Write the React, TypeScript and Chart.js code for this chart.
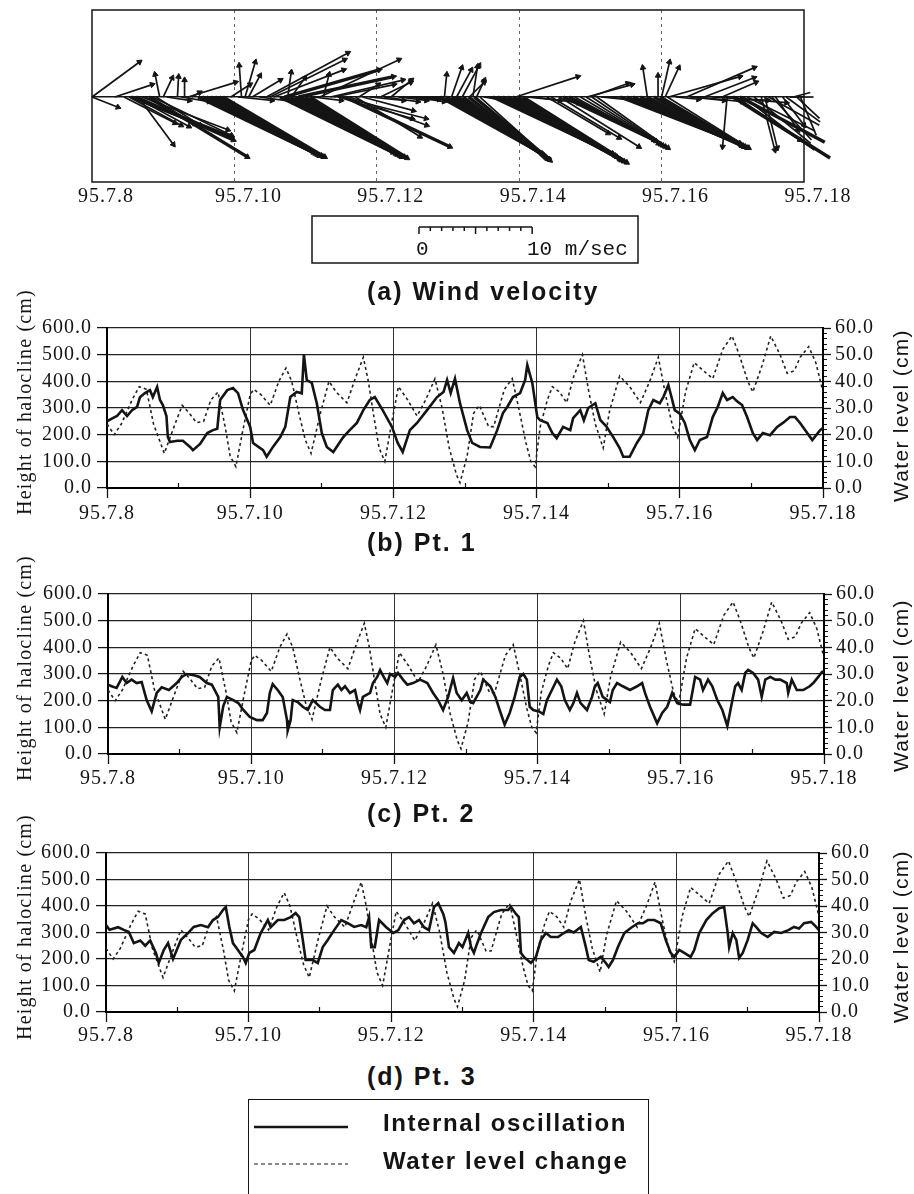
import React, { useEffect, useRef } from 'react';
import { Chart, registerables } from 'chart.js';

Chart.register(...registerables);

// ---------------- data ----------------
const dateLabels = ['95.7.8', '95.7.10', '95.7.12', '95.7.14', '95.7.16', '95.7.18'];
const panelTitles = ['(a) Wind velocity', '(b) Pt. 1', '(c) Pt. 2', '(d) Pt. 3'];
const legendLabels = ['Internal oscillation', 'Water level change'];
const leftAxisTitle = 'Height of halocline (cm)';
const rightAxisTitle = 'Water level (cm)';

// wind sticks: [day of July 1995, u east (m/s), v north (m/s)]
const windVectors: [number, number, number][] = [
  [8.00, 4.2, 3.1], [8.00, 2.3, -0.9], [8.32, 3.3, 1.1], [8.45, 4.5, -2.3], [8.52, 4.6, -2.5],
  [8.55, 8.8, -3.5], [8.60, 4.8, -2.6], [8.62, 8.6, -3.8], [8.65, 3.1, -4.2], [8.70, 7.6, -2.9],
  [8.75, 4.4, -2.4], [8.80, 8.7, -5.3], [8.85, 7.0, -3.4], [8.90, 3.9, -2.5], [8.95, -0.4, 2.0],
  [9.00, 0.8, 1.7], [9.05, 2.0, -0.3], [9.20, 0.1, 1.8], [9.25, 2.5, -0.4], [9.30, 0.0, 1.5],
  [9.35, 4.2, 1.3], [9.40, 0.7, 0.4],
  [9.49, 10.2, -4.9], [9.55, 10.0, -5.0], [9.61, 9.8, -5.1], [9.67, 9.6, -5.2], [9.73, 9.4, -5.2],
  [9.79, 9.2, -5.3], [9.84, 9.0, -5.3],
  [9.95, 1.7, 1.1], [10.05, 3.0, -0.3], [10.10, -0.2, 2.8], [10.15, 0.9, 3.1], [10.20, 1.0, 1.9],
  [10.25, 2.5, 1.5], [10.35, 3.0, -0.4], [10.45, 7.2, 3.9], [10.50, 6.6, 3.3], [10.55, 6.2, 2.4],
  [10.64, 10.0, -4.9], [10.71, 9.8, -5.0], [10.78, 9.5, -5.1], [10.85, 9.3, -5.2], [10.92, 9.0, -5.3],
  [10.99, 8.8, -5.3], [11.06, 8.6, -5.4],
  [10.70, 8.4, 2.4], [10.75, 0.3, 2.2], [10.80, 1.2, 1.7], [10.90, 8.4, 1.8], [11.10, 2.5, -0.3],
  [11.20, 7.0, 3.3], [11.25, 0.5, 2.0], [11.35, 6.4, 1.5], [11.40, 5.3, 1.1],
  [11.45, 6.6, -1.9], [11.50, 7.5, -1.9], [11.55, 9.3, -4.4], [11.62, 6.8, -2.5], [11.70, 5.7, -3.5],
  [11.75, 1.7, 1.1], [11.80, 4.5, -1.2], [11.90, 3.0, -0.3], [12.05, 2.7, 1.3], [12.10, 3.0, -0.4],
  [12.20, 1.8, 1.5], [12.30, 2.5, -0.3], [12.40, 3.0, -0.2], [12.50, 2.8, -0.4], [12.60, 3.2, -0.3],
  [12.70, 2.0, -0.2], [12.80, 2.5, -0.3],
  [12.89, 9.0, -5.0], [12.97, 8.6, -5.1], [13.05, 8.2, -5.2], [13.13, 7.8, -5.3], [13.21, 7.4, -5.4],
  [13.29, 7.0, -5.5], [13.37, 6.6, -5.5], [13.45, 6.2, -5.6],
  [12.95, 0.2, 2.0], [13.05, 0.9, 2.6], [13.10, 1.3, -0.7], [13.12, 1.3, 2.4], [13.20, 1.5, 2.8],
  [13.30, 1.3, 1.3], [13.35, 0.4, 2.7], [13.40, 0.7, 1.5], [13.50, 3.0, -0.5], [13.58, 2.0, -0.3],
  [13.63, 10.6, -5.0], [13.70, 10.4, -5.2], [13.77, 10.1, -5.3], [13.84, 9.9, -5.5], [13.91, 9.6, -5.6],
  [13.98, 9.4, -5.7], [14.05, 9.2, -5.8],
  [13.95, 5.5, 1.8], [14.10, 3.0, -0.3], [14.20, 4.0, -0.5], [14.39, 5.4, -3.2], [14.45, 6.0, -3.6],
  [14.57, 7.0, -4.4],
  [14.62, 8.0, -3.8], [14.70, 7.7, -3.9], [14.78, 7.4, -4.1], [14.86, 7.1, -4.2], [14.94, 6.8, -4.3],
  [15.02, 6.5, -4.4], [15.09, 6.3, -4.5],
  [14.95, 4.0, 1.1], [15.00, 3.3, 1.2], [15.15, 3.0, -0.3], [15.25, 4.0, -0.4],
  [15.42, 10.6, -4.1], [15.51, 10.1, -4.2], [15.60, 9.6, -4.3], [15.70, 9.1, -4.3], [15.79, 8.6, -4.4],
  [15.89, 8.1, -4.4], [15.98, 7.7, -4.5], [16.08, 7.2, -4.5],
  [15.80, -0.4, 2.6], [15.95, 0.0, 1.9], [16.00, 0.7, 3.1], [16.05, 1.2, 2.6], [16.10, 6.3, 1.8],
  [16.20, 2.0, -0.2], [16.35, 6.0, 2.6], [16.40, 3.0, -0.3], [16.50, 4.0, -0.4], [16.60, 4.4, 1.7],
  [16.70, 5.0, -0.3], [16.80, 6.0, -0.5], [16.85, 3.0, 1.3],
  [16.92, -0.4, -4.4], [17.00, 8.6, -5.4], [17.05, 6.9, -4.7], [17.10, 7.5, -4.0], [17.15, 5.0, -3.8],
  [17.20, 6.0, -3.0], [17.30, 5.0, -4.1], [17.40, 1.2, -4.7], [17.45, 1.1, -4.5], [17.50, 4.5, -2.5],
  [17.55, 3.5, -3.8], [17.60, 2.0, -2.9], [17.70, 1.9, -2.5], [17.75, 3.0, -2.2], [17.80, 2.1, 0.0],
  [17.85, 1.5, 0.4], [17.90, 2.0, -1.9], [17.95, 1.4, -3.4],
];

// water level (cm), right axis, same tide record in every panel: [day, value]
const waterLevel: [number, number][] = [
  [8.00, 24], [8.10, 20], [8.20, 24], [8.35, 33], [8.45, 38], [8.55, 37], [8.65, 24], [8.80, 13],
  [8.95, 24], [9.05, 31], [9.15, 28], [9.25, 24.5], [9.35, 25], [9.45, 33], [9.55, 36], [9.65, 23],
  [9.72, 12], [9.80, 8], [9.90, 22], [10.00, 35], [10.05, 37], [10.15, 35], [10.28, 31], [10.40, 40],
  [10.50, 45], [10.58, 40], [10.68, 28], [10.77, 18], [10.85, 13], [10.98, 28], [11.10, 40], [11.20, 36],
  [11.35, 32], [11.48, 42], [11.58, 49], [11.65, 40], [11.72, 28], [11.80, 15], [11.88, 10], [11.98, 25],
  [12.07, 38], [12.20, 33], [12.33, 27], [12.45, 33], [12.58, 41], [12.68, 30], [12.78, 15], [12.88, 5],
  [12.93, 2], [13.03, 12], [13.12, 28], [13.20, 31], [13.33, 23], [13.40, 23], [13.55, 37], [13.66, 41],
  [13.75, 30], [13.85, 17], [13.92, 10], [13.98, 8], [14.05, 23], [14.15, 33], [14.22, 38], [14.32, 36],
  [14.42, 32], [14.52, 42], [14.64, 50], [14.73, 36], [14.82, 24], [14.93, 15], [15.02, 29], [15.16, 42],
  [15.30, 38], [15.45, 32], [15.58, 40], [15.70, 49], [15.80, 35], [15.90, 23], [15.97, 19], [16.08, 36],
  [16.20, 47], [16.33, 44], [16.46, 41], [16.60, 52], [16.73, 57], [16.83, 50], [16.95, 40], [17.02, 36],
  [17.15, 46], [17.27, 57], [17.40, 50], [17.50, 43], [17.60, 44], [17.68, 49], [17.80, 53], [17.90, 47],
  [18.00, 36],
];

// height of halocline (cm), left axis: [day, value]
const pt1Halocline: [number, number][] = [
  [8.00, 250], [8.08, 262], [8.14, 270], [8.21, 292], [8.28, 270], [8.35, 292], [8.42, 304], [8.46, 340],
  [8.53, 356], [8.60, 367], [8.64, 341], [8.70, 379], [8.74, 330], [8.78, 311], [8.83, 270], [8.85, 191],
  [8.88, 172], [8.98, 177], [9.06, 177], [9.16, 154], [9.20, 142], [9.30, 165], [9.40, 206], [9.48, 217],
  [9.54, 222], [9.58, 330], [9.68, 367], [9.76, 375], [9.83, 356], [9.90, 292], [10.00, 229], [10.04, 169],
  [10.18, 142], [10.23, 117], [10.32, 155], [10.42, 191], [10.49, 229], [10.56, 341], [10.65, 360], [10.72, 355],
  [10.75, 500], [10.79, 405], [10.86, 394], [10.93, 318], [11.00, 206], [11.07, 154], [11.16, 135], [11.30, 191],
  [11.39, 217], [11.49, 244], [11.58, 292], [11.67, 330], [11.74, 341], [11.85, 292], [11.98, 229], [12.06, 169],
  [12.13, 135], [12.23, 217], [12.33, 244], [12.47, 292], [12.61, 341], [12.70, 360], [12.75, 405], [12.80, 356],
  [12.86, 410], [12.93, 318], [13.03, 217], [13.10, 169], [13.21, 154], [13.35, 152], [13.45, 217], [13.53, 281],
  [13.59, 304], [13.67, 341], [13.77, 356], [13.84, 405], [13.87, 461], [13.94, 394], [14.01, 266], [14.05, 254],
  [14.15, 244], [14.22, 206], [14.28, 187], [14.37, 229], [14.47, 217], [14.51, 262], [14.61, 292], [14.66, 254],
  [14.72, 300], [14.82, 318], [14.89, 255], [14.98, 229], [15.07, 191], [15.16, 150], [15.21, 117], [15.30, 117],
  [15.40, 169], [15.49, 206], [15.56, 292], [15.63, 330], [15.72, 318], [15.77, 341], [15.84, 386], [15.88, 345],
  [15.93, 292], [16.00, 279], [16.07, 244], [16.14, 180], [16.21, 142], [16.28, 180], [16.38, 191], [16.46, 266],
  [16.53, 304], [16.60, 356], [16.66, 330], [16.74, 341], [16.80, 325], [16.87, 311], [16.94, 266], [17.02, 206],
  [17.08, 180], [17.16, 206], [17.26, 198], [17.36, 229], [17.44, 244], [17.54, 266], [17.61, 266], [17.68, 244],
  [17.78, 206], [17.85, 180], [17.96, 217], [18.00, 225],
];

const pt2Halocline: [number, number][] = [
  [8.00, 260], [8.05, 254], [8.12, 248], [8.20, 289], [8.26, 266], [8.33, 279], [8.40, 266], [8.47, 270],
  [8.54, 202], [8.61, 160], [8.68, 229], [8.75, 250], [8.85, 240], [8.96, 266], [9.03, 289], [9.10, 300],
  [9.20, 295], [9.28, 289], [9.38, 266], [9.45, 260], [9.54, 214], [9.56, 100], [9.61, 180], [9.66, 214],
  [9.75, 202], [9.82, 191], [9.89, 165], [9.98, 139], [10.08, 127], [10.16, 127], [10.22, 154], [10.26, 229],
  [10.30, 262], [10.37, 240], [10.44, 214], [10.50, 127], [10.51, 89], [10.55, 127], [10.58, 202], [10.65, 195],
  [10.72, 177], [10.79, 165], [10.86, 202], [10.96, 177], [11.03, 165], [11.10, 165], [11.14, 240], [11.21, 260],
  [11.26, 240], [11.31, 254], [11.38, 229], [11.45, 240], [11.49, 191], [11.52, 165], [11.56, 214], [11.66, 229],
  [11.70, 266], [11.76, 289], [11.80, 315], [11.85, 289], [11.90, 266], [11.94, 300], [12.01, 289], [12.05, 304],
  [12.12, 279], [12.18, 260], [12.26, 266], [12.36, 279], [12.46, 266], [12.54, 229], [12.61, 202], [12.68, 165],
  [12.75, 214], [12.82, 285], [12.87, 229], [12.94, 202], [13.01, 229], [13.06, 195], [13.10, 191], [13.20, 240],
  [13.24, 279], [13.34, 254], [13.41, 214], [13.47, 165], [13.54, 110], [13.61, 154], [13.68, 214], [13.75, 289],
  [13.80, 300], [13.85, 279], [13.89, 177], [13.94, 165], [14.03, 158], [14.08, 150], [14.13, 202], [14.20, 240],
  [14.27, 279], [14.33, 254], [14.38, 202], [14.45, 165], [14.50, 191], [14.55, 229], [14.60, 191], [14.69, 165],
  [14.76, 214], [14.80, 254], [14.84, 266], [14.91, 214], [15.01, 195], [15.05, 240], [15.11, 266], [15.19, 254],
  [15.29, 240], [15.39, 254], [15.46, 266], [15.50, 229], [15.57, 177], [15.67, 115], [15.74, 154], [15.81, 177],
  [15.88, 229], [15.95, 191], [16.03, 185], [16.13, 185], [16.20, 289], [16.27, 279], [16.31, 240], [16.38, 279],
  [16.44, 254], [16.51, 202], [16.58, 165], [16.65, 105], [16.72, 202], [16.76, 254], [16.80, 266], [16.85, 240],
  [16.90, 304], [16.94, 315], [17.01, 304], [17.08, 279], [17.13, 214], [17.18, 279], [17.25, 289], [17.32, 279],
  [17.39, 279], [17.48, 266], [17.50, 229], [17.55, 279], [17.62, 240], [17.71, 240], [17.80, 254], [17.85, 266],
  [17.92, 289], [17.97, 307], [18.00, 310],
];

const pt3Halocline: [number, number][] = [
  [8.00, 328], [8.05, 310], [8.17, 320], [8.25, 310], [8.32, 302], [8.39, 260], [8.48, 270], [8.55, 250],
  [8.62, 270], [8.70, 223], [8.74, 185], [8.81, 234], [8.87, 260], [8.94, 200], [9.05, 272], [9.15, 298],
  [9.23, 321], [9.33, 328], [9.43, 320], [9.50, 347], [9.57, 358], [9.64, 385], [9.68, 396], [9.73, 321],
  [9.78, 260], [9.85, 234], [9.92, 208], [9.96, 185], [10.01, 223], [10.08, 234], [10.17, 298], [10.27, 347],
  [10.31, 320], [10.41, 347], [10.50, 347], [10.59, 358], [10.66, 373], [10.71, 358], [10.76, 272], [10.80, 196],
  [10.90, 196], [10.97, 185], [11.04, 245], [11.11, 272], [11.20, 309], [11.30, 347], [11.39, 335], [11.48, 321],
  [11.58, 328], [11.65, 320], [11.69, 358], [11.72, 245], [11.77, 245], [11.83, 347], [11.93, 320], [12.03, 298],
  [12.10, 309], [12.18, 347], [12.25, 358], [12.32, 335], [12.39, 347], [12.46, 320], [12.53, 309], [12.60, 396],
  [12.66, 411], [12.73, 370], [12.76, 340], [12.81, 245], [12.88, 223], [12.95, 260], [13.00, 245], [13.08, 298],
  [13.12, 245], [13.16, 223], [13.20, 255], [13.26, 298], [13.36, 358], [13.44, 377], [13.54, 385], [13.64, 385],
  [13.68, 396], [13.75, 370], [13.79, 358], [13.82, 223], [13.86, 208], [13.96, 185], [14.03, 208], [14.10, 272],
  [14.17, 298], [14.24, 283], [14.34, 283], [14.42, 298], [14.49, 309], [14.56, 300], [14.66, 321], [14.73, 245],
  [14.77, 196], [14.84, 189], [14.94, 208], [15.01, 185], [15.05, 170], [15.11, 196], [15.18, 245], [15.27, 298],
  [15.36, 317], [15.46, 335], [15.53, 335], [15.60, 347], [15.69, 347], [15.78, 335], [15.85, 272], [15.92, 223],
  [15.97, 208], [16.04, 234], [16.11, 223], [16.20, 208], [16.25, 234], [16.32, 298], [16.42, 347], [16.51, 373],
  [16.60, 392], [16.67, 396], [16.72, 298], [16.74, 245], [16.79, 298], [16.84, 272], [16.88, 204], [16.93, 223],
  [17.00, 272], [17.07, 335], [17.12, 320], [17.19, 298], [17.28, 283], [17.37, 302], [17.47, 298], [17.57, 309],
  [17.65, 321], [17.72, 315], [17.79, 335], [17.89, 340], [17.96, 321], [18.00, 309],
];

// ---------------- styling / layout ----------------
const SERIF = '"Liberation Serif", "Times New Roman", serif';
const SANS = '"Liberation Sans", Arial, Helvetica, sans-serif';
const MONO = '"Liberation Mono", "Courier New", monospace';
const INK = '#141414';
const K = 0.1589; // days per (m/s): keeps the stick plot isotropic
const XAXIS_H = 45;

function fit(w?: number, h?: number) {
  return (s: any) => {
    if (w !== undefined) s.width = w;
    if (h !== undefined) s.height = h;
    s.paddingLeft = 0; s.paddingRight = 0; s.paddingTop = 0; s.paddingBottom = 0;
  };
}

const spacingPlugin = {
  id: 'letterSpacing',
  beforeDraw(chart: any) {
    try { chart.ctx.letterSpacing = '1px'; } catch (e) { /* ignore */ }
  },
};

const framePlugin = {
  id: 'frame',
  afterDraw(chart: any) {
    const { ctx, chartArea: a } = chart;
    ctx.save();
    ctx.strokeStyle = INK;
    ctx.lineWidth = 1.5;
    ctx.strokeRect(a.left, a.top, a.right - a.left, a.bottom - a.top);
    ctx.restore();
  },
};

const scaleBarPlugin = {
  id: 'scaleBar',
  afterDraw(chart: any) {
    const { ctx } = chart;
    const xs = chart.scales.x;
    const unit = xs.getPixelForValue(8 + K) - xs.getPixelForValue(8); // px per 1 m/s
    const x0 = 419;
    const y0 = 227;
    ctx.save();
    try { ctx.letterSpacing = '0px'; } catch (e) { /* ignore */ }
    ctx.strokeStyle = INK;
    ctx.lineWidth = 1.5;
    ctx.strokeRect(312, 216, 326, 47);
    ctx.beginPath();
    ctx.moveTo(x0, y0);
    ctx.lineTo(x0 + 10 * unit, y0);
    for (let i = 0; i <= 10; i++) {
      const x = x0 + i * unit;
      ctx.moveTo(x, y0);
      ctx.lineTo(x, y0 + (i % 5 === 0 ? 7 : 4));
    }
    ctx.stroke();
    ctx.fillStyle = INK;
    ctx.font = `21px ${MONO}`;
    ctx.textBaseline = 'alphabetic';
    ctx.textAlign = 'left';
    ctx.fillText('0', 416, 255);
    ctx.fillText('10 m/sec', 527, 255);
    ctx.restore();
  },
};

const dateTick = (v: any) => {
  const i = Math.round((Number(v) - 8) / 2);
  return dateLabels[i] ?? '';
};

function windConfig(): any {
  const pts: any[] = [];
  windVectors.forEach(([t, u, v]) => {
    pts.push({ x: t, y: 0 });
    pts.push({ x: t + u * K, y: v });
    pts.push({ x: t, y: null });
  });
  const speedAt = (i: number) => {
    const w = windVectors[Math.floor(i / 3)];
    return w ? Math.hypot(w[1], w[2]) : 0;
  };
  return {
    type: 'line',
    data: {
      datasets: [{
        data: pts,
        borderColor: INK,
        borderWidth: 1.8,
        segment: { borderWidth: (c: any) => (speedAt(c.p0DataIndex) >= 8.5 ? 3.4 : 1.7) },
        spanGaps: false,
        clip: false,
        tension: 0,
        fill: false,
        pointStyle: 'triangle',
        pointRadius: (c: any) => (c.dataIndex % 3 === 1 ? 3.2 : 0),
        pointHoverRadius: 0,
        pointRotation: (c: any) => {
          const w = windVectors[Math.floor(c.dataIndex / 3)];
          return w ? (Math.atan2(w[1], w[2]) * 180) / Math.PI : 0;
        },
        pointBackgroundColor: INK,
        pointBorderColor: INK,
        pointBorderWidth: 1,
      }],
    },
    options: {
      responsive: false,
      animation: false,
      devicePixelRatio: 1,
      events: [],
      layout: { autoPadding: false, padding: { left: 92, right: 110, top: 10, bottom: 270 - 182 - 30 } },
      plugins: { legend: { display: false }, tooltip: { enabled: false } },
      scales: {
        x: {
          type: 'linear', min: 8, max: 18,
          ticks: {
            stepSize: 2, autoSkip: false, maxRotation: 0, minRotation: 0, labelOffset: 14, padding: 3,
            color: INK, font: { family: SERIF, size: 20 }, callback: dateTick,
          },
          grid: {
            drawTicks: false, lineWidth: 1,
            color: (c: any) => (c.tick && (c.tick.value === 8 || c.tick.value === 18) ? 'rgba(0,0,0,0)' : '#666'),
          },
          border: { display: false, dash: [3, 4] },
          afterFit: fit(undefined, 30),
        },
        y: {
          type: 'linear', min: -7.52, max: 7.7,
          afterBuildTicks: (s: any) => { s.ticks = [{ value: 0 }]; },
          ticks: { display: false },
          grid: { drawTicks: false, lineWidth: 1.4, color: INK },
          border: { display: false },
          afterFit: fit(0),
        },
      },
    },
    plugins: [framePlugin, scaleBarPlugin, spacingPlugin],
  };
}

type PanelDef = {
  top: number; height: number; left: number; right: number;
  plotTop: number; plotBottom: number; labelPad: number;
  series: [number, number][];
};

const panels: PanelDef[] = [
  { top: 300, height: 240, left: 107, right: 823, plotTop: 328, plotBottom: 488, labelPad: 4, series: pt1Halocline },
  { top: 566, height: 240, left: 108, right: 824, plotTop: 594, plotBottom: 754, labelPad: 3, series: pt2Halocline },
  { top: 826, height: 236, left: 106, right: 819, plotTop: 853, plotBottom: 1012, labelPad: 2, series: pt3Halocline },
];

function panelConfig(p: PanelDef): any {
  const fmt = (v: any) => Number(v).toFixed(1);
  return {
    type: 'line',
    data: {
      datasets: [
        {
          label: legendLabels[0],
          data: p.series.map(([x, y]) => ({ x, y })),
          yAxisID: 'y', xAxisID: 'x',
          borderColor: INK, borderWidth: 2.6, pointRadius: 0, tension: 0, fill: false,
        },
        {
          label: legendLabels[1],
          data: waterLevel.map(([x, y]) => ({ x, y })),
          yAxisID: 'y2', xAxisID: 'x',
          borderColor: '#222', borderWidth: 1.6, borderDash: [3, 3], pointRadius: 0, tension: 0, fill: false,
        },
      ],
    },
    options: {
      responsive: false,
      animation: false,
      devicePixelRatio: 1,
      events: [],
      layout: {
        autoPadding: false,
        padding: { left: 0, right: 0, top: p.plotTop - p.top, bottom: p.height - (p.plotBottom - p.top) - XAXIS_H },
      },
      plugins: { legend: { display: false }, tooltip: { enabled: false } },
      scales: {
        x2: {
          type: 'linear', position: 'bottom', weight: 0, min: 8, max: 18,
          ticks: { display: false, stepSize: 1 },
          grid: {
            drawOnChartArea: false, tickLength: -5, tickWidth: 1.2,
            tickColor: (c: any) => (c.tick && Math.round(c.tick.value) % 2 === 1 ? INK : 'rgba(0,0,0,0)'),
          },
          border: { display: false },
          afterFit: fit(undefined, 0),
        },
        x: {
          type: 'linear', position: 'bottom', weight: 1, min: 8, max: 18,
          ticks: {
            stepSize: 2, autoSkip: false, maxRotation: 0, minRotation: 0, padding: p.labelPad,
            color: INK, font: { family: SERIF, size: 20 }, callback: dateTick,
          },
          grid: { color: '#333', lineWidth: 1, tickLength: 10, tickColor: INK, tickWidth: 1.3 },
          border: { color: '#000', width: 2 },
          afterFit: fit(undefined, XAXIS_H),
        },
        y: {
          type: 'linear', position: 'left', min: 0, max: 600,
          ticks: { stepSize: 100, autoSkip: false, padding: 5, color: INK, font: { family: SERIF, size: 20 }, callback: fmt },
          grid: { color: '#222', lineWidth: 1.2, tickLength: 10, tickColor: INK, tickWidth: 1.3 },
          border: { color: '#000', width: 2 },
          afterFit: fit(p.left),
        },
        y3: {
          type: 'linear', position: 'right', weight: 0, min: 0, max: 60,
          ticks: { display: false, stepSize: 2, autoSkip: false },
          grid: {
            drawOnChartArea: false, tickLength: 4, tickWidth: 1,
            tickColor: (c: any) => (c.tick && Math.round(c.tick.value) % 10 === 0 ? 'rgba(0,0,0,0)' : INK),
          },
          border: { display: false },
          afterFit: fit(0),
        },
        y2: {
          type: 'linear', position: 'right', weight: 1, min: 0, max: 60,
          ticks: { stepSize: 10, autoSkip: false, padding: 4, color: INK, font: { family: SERIF, size: 20 }, callback: fmt },
          grid: { drawOnChartArea: false, tickLength: 8, tickColor: INK, tickWidth: 1.3 },
          border: { color: '#000', width: 2 },
          afterFit: fit(914 - p.right),
        },
      },
    },
    plugins: [spacingPlugin],
  };
}

// ---------------- text helpers ----------------
const BASE_K: Record<string, number> = { sans: 0.8465, serif: 0.8375, mono: 0.7665 };

function Txt(props: { x: number; baseline: number; text: string; kind: 'sans' | 'serif' | 'mono'; size: number; spacing?: number; bold?: boolean }) {
  const fam = props.kind === 'sans' ? SANS : props.kind === 'serif' ? SERIF : MONO;
  return (
    <div style={{
      position: 'absolute', left: props.x, top: props.baseline - BASE_K[props.kind] * props.size,
      fontFamily: fam, fontSize: props.size, lineHeight: `${props.size}px`, letterSpacing: props.spacing ?? 0,
      fontWeight: props.bold ? 700 : 400, whiteSpace: 'nowrap', color: INK,
    }}>{props.text}</div>
  );
}

function VTxt(props: { cx: number; cy: number; text: string; kind: 'sans' | 'serif'; size: number; spacing?: number }) {
  const fam = props.kind === 'sans' ? SANS : SERIF;
  const h = props.size * 1.2;
  return (
    <div style={{
      position: 'absolute', left: props.cx - 160, top: props.cy - h / 2, width: 320, height: h,
      lineHeight: `${h}px`, textAlign: 'center', transform: 'rotate(-90deg)', transformOrigin: '50% 50%',
      fontFamily: fam, fontSize: props.size, letterSpacing: props.spacing ?? 0, whiteSpace: 'nowrap', color: INK,
    }}>{props.text}</div>
  );
}

export default function App() {
  const windRef = useRef<HTMLCanvasElement>(null);
  const bRef = useRef<HTMLCanvasElement>(null);
  const cRef = useRef<HTMLCanvasElement>(null);
  const dRef = useRef<HTMLCanvasElement>(null);

  useEffect(() => {
    const charts: Chart[] = [];
    if (windRef.current) charts.push(new Chart(windRef.current, windConfig()));
    [bRef, cRef, dRef].forEach((r, i) => {
      if (r.current) charts.push(new Chart(r.current, panelConfig(panels[i])));
    });
    return () => charts.forEach((c) => c.destroy());
  }, []);

  const refs = [bRef, cRef, dRef];
  const titleBaselines = [300, 551, 822, 1085];
  const leftTitleCy = [402, 668, 927];
  const rightTitleCy = [416, 686, 937];

  return (
    <div style={{ position: 'absolute', left: 0, top: 0, width: 914, height: 1194, overflow: 'hidden', background: '#fff' }}>
      <canvas ref={windRef} width={914} height={270} style={{ position: 'absolute', left: 0, top: 0 }} />
      {panels.map((p, i) => (
        <canvas key={i} ref={refs[i]} width={914} height={p.height} style={{ position: 'absolute', left: 0, top: p.top }} />
      ))}

      {panelTitles.map((t, i) => (
        <Txt key={t} x={367} baseline={titleBaselines[i]} text={t} kind="sans" size={25} spacing={2} bold />
      ))}

      {leftTitleCy.map((cy, i) => (
        <VTxt key={'l' + i} cx={24} cy={cy} text={leftAxisTitle} kind="serif" size={20} spacing={1.2} />
      ))}
      {rightTitleCy.map((cy, i) => (
        <VTxt key={'r' + i} cx={901} cy={cy} text={rightAxisTitle} kind="sans" size={21} spacing={1.3} />
      ))}

      {/* legend */}
      <div style={{ position: 'absolute', left: 248, top: 1099, width: 399, height: 110, border: `1.5px solid ${INK}` }} />
      <svg width={914} height={1194} style={{ position: 'absolute', left: 0, top: 0, pointerEvents: 'none' }}>
        <line x1={254} y1={1127} x2={348} y2={1127} stroke={INK} strokeWidth={2.5} />
        <line x1={254} y1={1164} x2={348} y2={1164} stroke={INK} strokeWidth={1.2} strokeDasharray="4 3" />
      </svg>
      <Txt x={383} baseline={1131} text={legendLabels[0]} kind="sans" size={24} spacing={1.6} bold />
      <Txt x={383} baseline={1169} text={legendLabels[1]} kind="sans" size={24} spacing={1.6} bold />
    </div>
  );
}
